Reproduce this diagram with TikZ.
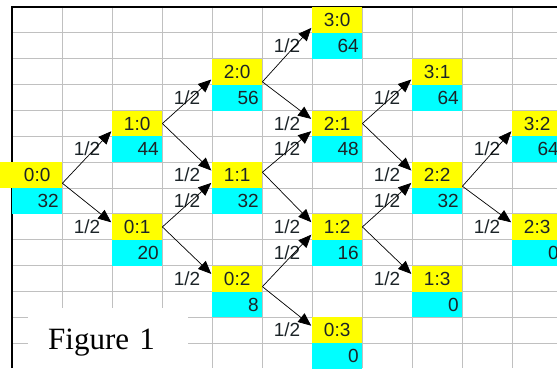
\documentclass[tikz,border=0pt]{standalone}
\usepackage{fontspec}
\setmainfont{Liberation Sans}
\newfontfamily\figfont{Liberation Serif}
\definecolor{xlYellow}{HTML}{FFFF00}
\definecolor{xlCyan}{HTML}{00FFFF}
\definecolor{xlGrid}{HTML}{C0C0C0}
\definecolor{xlText}{HTML}{1C2428}
\usepackage{tikz}
\usetikzlibrary{arrows.meta, positioning, calc}

\begin{document}
\begin{tikzpicture}[
  x=50pt, y=-25.85pt,
  cell/.style={minimum width=50pt, minimum height=25.85pt, inner sep=0pt, anchor=north west, text=xlText, font=\fontsize{19}{19}\selectfont},
  state/.style={cell, fill=xlYellow},
  value/.style={cell, fill=xlCyan, text width=43pt, inner xsep=3.5pt, align=right},
  prob/.style={inner sep=0pt, text=xlText, font=\fontsize{19}{19}\selectfont},
  move/.style={-{Triangle[length=13pt, width=11pt]}, line width=0.7pt, shorten >=1pt},
  figbox/.style={fill=white, anchor=north west, minimum width=160pt, minimum height=69pt, text width=120pt, inner xsep=20pt, align=left, font=\figfont\fontsize{31}{31}\selectfont},
]
  \useasboundingbox (-12pt,7pt) rectangle (545pt,-361pt);

  \foreach \c in {1,...,10} \draw[xlGrid, line width=0.8pt] (\c,0) -- (\c,13.97);
  \foreach \r in {1,...,13} \draw[xlGrid, line width=0.8pt] (0,\r) -- (10.9,\r);
  \draw[line width=1.6pt] (0,13.97) -- (0,0) -- (10.9,0);
  \fill[xlYellow] (-12pt,-155.1pt) rectangle (0,7);

  \foreach \i/\j/\v in {0/0/32, 1/0/44, 0/1/20, 2/0/56, 1/1/32, 0/2/8, 3/0/64, 2/1/48, 1/2/16, 0/3/0, 3/1/64, 2/2/32, 1/3/0, 3/2/64, 2/3/0} {
    \pgfmathtruncatemacro\col{2*(\i+\j)}
    \pgfmathtruncatemacro\row{6-2*\i+2*\j}
    \node[state] (s\i\j) at (\col,\row) {\i:\j};
    \node[value] (v\i\j) at (\col,\row+1) {\v};
  }

  \foreach \i/\j/\dy in {0/0/-8pt, 1/0/0pt, 0/1/0pt, 2/0/-10pt, 1/1/3pt, 0/2/-8pt, 2/1/0pt, 1/2/0pt, 2/2/-11pt} {
    \pgfmathtruncatemacro\ii{\i+1}
    \pgfmathtruncatemacro\jj{\j+1}
    \pgfmathtruncatemacro\col{2*(\i+\j+1)-1}
    \pgfmathtruncatemacro\row{6-2*\i+2*\j}
    \node[prob] (pu\ii\j) at (\col+0.5,\row-0.5) {1/2};
    \node[prob] (pd\i\jj) at (\col+0.5,\row+2.5) {1/2};
    \draw[move] ([yshift=\dy]s\i\j.east) -- ([yshift=-7pt]s\ii\j.west);
    \draw[move] ([yshift=\dy]s\i\j.east) -- ([yshift=4pt]s\i\jj.west);
  }

  \node[figbox] (fig) at (0.32,11.64) {Figure 1};
\end{tikzpicture}
\end{document}
